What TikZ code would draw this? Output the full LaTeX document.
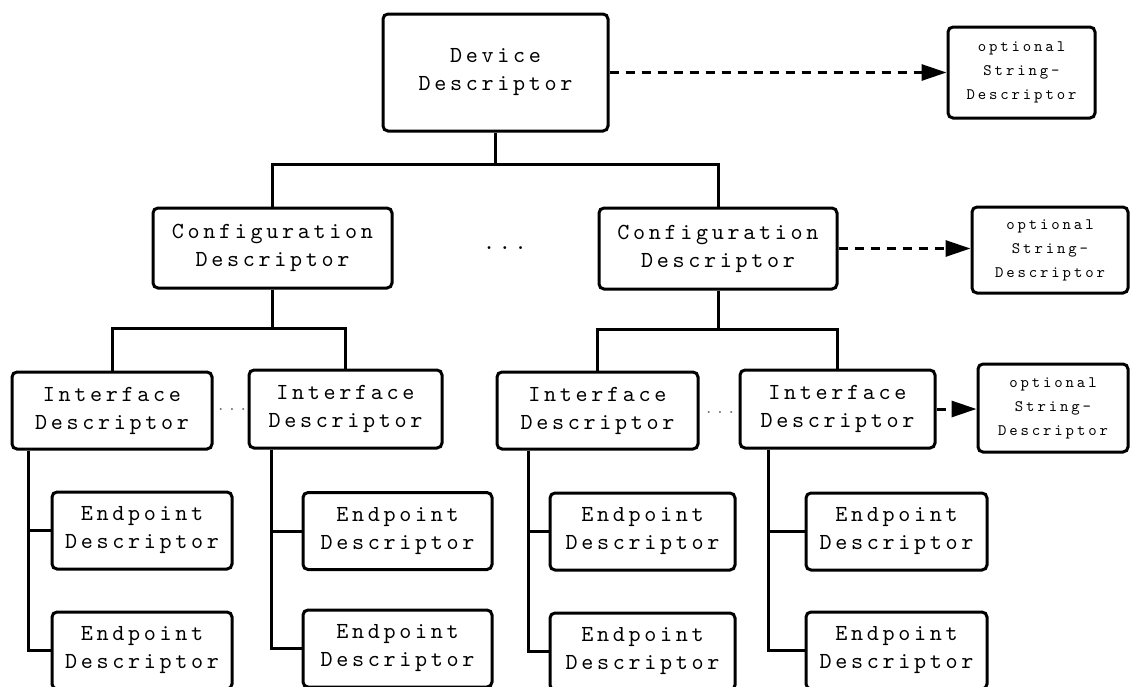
\documentclass[tikz,border=0pt]{standalone}
\usepackage{fontspec}
\usetikzlibrary{arrows.meta}
% spaced-out typewriter faces for the box labels
\newfontfamily\boxfont[LetterSpace=16]{lmmono10-regular.otf}
\newfontfamily\strfont[LetterSpace=18]{lmmono10-regular.otf}
\begin{document}
\begin{tikzpicture}[x=1pt,y=-1pt,
  desc/.style={draw, line width=3pt, rounded corners=5pt, align=center,
    inner sep=0pt, font=\boxfont\fontsize{23}{28}\selectfont},
  strdesc/.style={desc, font=\strfont\fontsize{16}{24}\selectfont},
  link/.style={line width=3pt},
  optlink/.style={line width=3pt, dash pattern=on 9pt off 7pt,
    -{Triangle[length=25pt,width=16pt]}},
  bigdots/.style={font=\boxfont\fontsize{23}{28}\selectfont, inner sep=0pt, anchor=base},
  smalldots/.style={font=\strfont\fontsize{16}{24}\selectfont, text=black!60,
    inner sep=0pt, anchor=base}
]
\useasboundingbox (0,0) rectangle (1130,686);
\clip (0,0) rectangle (1130,686);

% device level
\node[desc, minimum width=225pt, minimum height=117pt] (dev) at (495.5,72.5) {Device\\Descriptor};
\node[strdesc, minimum width=147pt, minimum height=91pt] (str1) at (1021.5,72.5) {optional\\String-\\Descriptor};

% configuration level
\node[desc, minimum width=239pt, minimum height=80pt] (cfgA) at (272.5,248) {Configuration\\Descriptor};
\node[desc, minimum width=238pt, minimum height=81pt] (cfgB) at (718,248.5) {Configuration\\Descriptor};
\node[strdesc, minimum width=156pt, minimum height=86pt] (str2) at (1050,250) {optional\\String-\\Descriptor};
\node[bigdots] (cfgdots) at (505,249) {...};

% interface level
\node[desc, minimum width=200pt, minimum height=77pt] (ifA) at (112,410.5) {Interface\\Descriptor};
\node[desc, minimum width=193pt, minimum height=78pt] (ifB) at (345.5,409) {Interface\\Descriptor};
\node[desc, minimum width=201pt, minimum height=77pt] (ifC) at (597.5,410.5) {Interface\\Descriptor};
\node[desc, minimum width=195pt, minimum height=78pt] (ifD) at (837.5,409) {Interface\\Descriptor};
\node[strdesc, minimum width=150pt, minimum height=88pt] (str3) at (1053,408) {optional\\String-\\Descriptor};
\node[smalldots] (ifdotsAB) at (232,410) {...};
\node[smalldots] (ifdotsCD) at (720,413) {...};

% endpoint level
\node[desc, minimum width=180pt, minimum height=77pt] (epA1) at (142,530.5) {Endpoint\\Descriptor};
\node[desc, minimum width=180pt, minimum height=77pt] (epA2) at (142,650.5) {Endpoint\\Descriptor};
\node[desc, minimum width=189pt, minimum height=77pt] (epB1) at (397.5,531) {Endpoint\\Descriptor};
\node[desc, minimum width=189pt, minimum height=77pt] (epB2) at (397.5,648.5) {Endpoint\\Descriptor};
\node[desc, minimum width=185pt, minimum height=77pt] (epC1) at (642.5,531.5) {Endpoint\\Descriptor};
\node[desc, minimum width=185pt, minimum height=77pt] (epC2) at (642.5,651.5) {Endpoint\\Descriptor};
\node[desc, minimum width=181pt, minimum height=77pt] (epD1) at (896.5,531.5) {Endpoint\\Descriptor};
\node[desc, minimum width=181pt, minimum height=77pt] (epD2) at (896.5,650.5) {Endpoint\\Descriptor};

% tree connectors
\draw[link] (dev.south) -- ++(0,32) coordinate (devfork) -| (cfgA.north);
\draw[link] (devfork) -| (cfgB.north);
\draw[link] (cfgA.south) -- ++(0,39) coordinate (cfgAfork) -| (ifA.north);
\draw[link] (cfgAfork) -| (ifB.north);
\draw[link] (cfgB.south) -- ++(0,39) coordinate (cfgBfork) -| (ifC.north);
\draw[link] (cfgBfork) -| (ifD.north);

\draw[link] ([xshift=18pt]ifA.south west) |- (epA1.west);
\draw[link] ([xshift=18pt]ifA.south west) |- (epA2.west);
\draw[link] ([xshift=24pt]ifB.south west) |- (epB1.west);
\draw[link] ([xshift=24pt]ifB.south west) |- (epB2.west);
\draw[link] ([xshift=33pt]ifC.south west) |- (epC1.west);
\draw[link] ([xshift=33pt]ifC.south west) |- (epC2.west);
\draw[link] ([xshift=30pt]ifD.south west) |- (epD1.west);
\draw[link] ([xshift=30pt]ifD.south west) |- (epD2.west);

% optional string descriptors
\draw[optlink] (dev.east) -- (str1.west);
\draw[optlink] (cfgB.east) -- (cfgB.east -| str2.west);
\draw[optlink] (ifD.east) -- (ifD.east -| str3.west);
\end{tikzpicture}
\end{document}
